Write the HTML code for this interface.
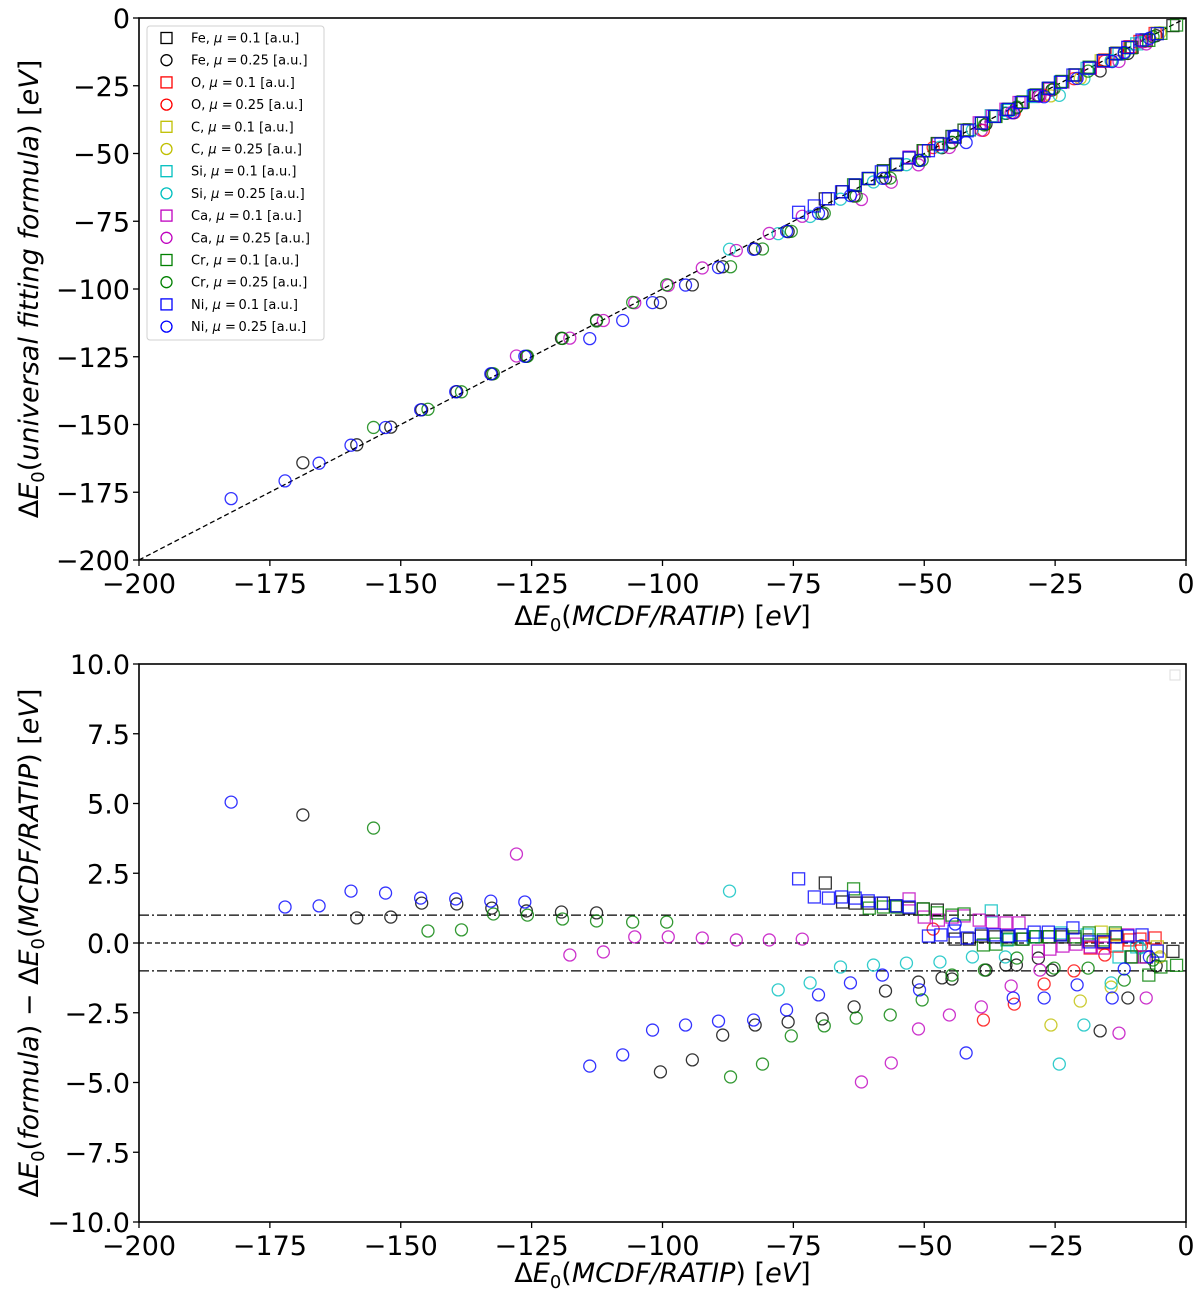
<!DOCTYPE html>
<html><head><meta charset="utf-8"><style>
body{margin:0;background:#fff;}
svg{display:block;font-family:"DejaVu Sans","Liberation Sans",sans-serif;}
</style></head><body>
<svg id="fig" width="1200" height="1298" viewBox="0 0 1200 1298" xmlns="http://www.w3.org/2000/svg">
<g id="top"></g>
<g id="bot"></g>
</svg>
<script>
// ---- data: [x = dE0(MCDF/RATIP), d = dE0(formula) - dE0(MCDF/RATIP)] ----
const FeSq=[[-68.9,2.15],[-65.6,1.47],[-63.2,1.43],[-60.7,1.43],[-57.8,1.43],[-55.5,1.33],[-52.9,1.25],[-50.2,1.22],[-47.5,1.18],[-44.1,0.14],[-41.4,0.14],[-39.1,0.25],[-36.5,0.22],[-34.0,0.22],[-31.3,0.14],[-28.8,0.22],[-26.3,0.22],[-23.7,0.22],[-21.2,0.14],[-18.5,0.11],[-15.8,0.04],[-13.2,0.22],[-10.3,-0.5],[-7.6,-0.5],[-2.5,-0.3]];
const FeCi=[[-168.7,4.59],[-158.4,0.9],[-151.9,0.93],[-146.0,1.43],[-139.3,1.4],[-132.6,1.25],[-126.0,1.15],[-119.3,1.11],[-112.6,1.08],[-100.4,-4.62],[-94.3,-4.19],[-88.5,-3.3],[-82.3,-2.94],[-76.0,-2.83],[-69.5,-2.72],[-63.4,-2.29],[-57.4,-1.72],[-51.1,-1.4],[-46.6,-1.25],[-44.7,-1.29],[-38.2,-0.97],[-34.4,-0.79],[-32.4,-0.79],[-28.2,-0.54],[-25.6,-0.97],[-16.4,-3.15],[-11.1,-1.97],[-5.7,-0.82]];
const OSq=[[-18.3,-0.18],[-15.5,0.0],[-13.2,-0.11],[-10.7,0.11],[-8.8,0.14],[-5.9,0.18]];
const OCi=[[-48.3,0.5],[-38.7,-2.76],[-32.8,-2.19],[-27.1,-1.47],[-21.4,-1.0],[-15.5,-0.43],[-8.5,-0.1]];
const CSq=[[-16.2,0.39],[-13.4,0.29],[-5.5,-0.14]];
const CCi=[[-25.8,-2.94],[-20.2,-2.08],[-14.3,-1.58],[-5.0,-0.5]];
const SiSq=[[-37.2,1.15],[-34.2,0.11],[-29.2,0.22],[-23.9,0.36],[-18.9,0.29],[-12.8,-0.5],[-9.4,-0.14]];
const SiCi=[[-87.2,1.86],[-77.9,-1.68],[-71.8,-1.43],[-66.0,-0.86],[-59.7,-0.79],[-53.4,-0.72],[-47.0,-0.68],[-40.8,-0.5],[-34.5,-0.5],[-24.2,-4.34],[-19.5,-2.94],[-14.3,-1.43],[-8.8,-0.18]];
const CaSq=[[-52.9,1.58],[-50.0,0.93],[-47.3,0.82],[-44.7,0.93],[-42.4,0.97],[-39.5,0.82],[-37.0,0.75],[-34.4,0.72],[-31.9,0.72],[-28.2,-0.29],[-26.0,-0.22],[-23.5,-0.11],[-21.0,-0.04],[-18.3,-0.14],[-15.8,-0.18],[-11.1,0.29],[-8.0,-0.5]];
const CaCi=[[-127.9,3.19],[-117.7,-0.43],[-111.3,-0.32],[-98.9,0.22],[-92.4,0.18],[-105.3,0.22],[-85.9,0.11],[-79.6,0.11],[-73.3,0.14],[-62.0,-4.98],[-56.3,-4.3],[-51.1,-3.08],[-45.2,-2.58],[-39.1,-2.29],[-33.4,-1.54],[-27.9,-0.97],[-12.8,-3.23],[-7.6,-1.97]];
const CrSq=[[-63.5,1.94],[-60.5,1.25],[-57.8,1.29],[-55.2,1.29],[-50.2,1.22],[-47.5,1.08],[-44.7,1.0],[-42.4,1.04],[-38.7,-0.07],[-36.3,-0.04],[-33.8,0.14],[-31.1,0.14],[-28.6,0.22],[-26.1,0.22],[-23.7,0.29],[-21.2,0.22],[-18.5,0.36],[-15.8,0.11],[-13.5,0.36],[-10.5,-0.5],[-7.1,-1.15],[-4.8,-0.86],[-1.8,-0.8]];
const CrCi=[[-155.2,4.12],[-144.8,0.43],[-138.4,0.47],[-132.3,1.04],[-125.8,1.0],[-119.1,0.86],[-112.6,0.79],[-105.7,0.75],[-99.2,0.75],[-87.0,-4.8],[-80.9,-4.34],[-75.4,-3.33],[-69.1,-2.97],[-63.0,-2.69],[-56.5,-2.58],[-50.4,-2.04],[-44.7,-1.15],[-38.5,-0.97],[-32.3,-0.54],[-25.2,-0.9],[-18.7,-0.9],[-11.8,-1.33],[-6.3,-0.61]];
const NiSq=[[-74.0,2.3],[-71.0,1.65],[-68.3,1.61],[-65.8,1.65],[-63.2,1.61],[-60.7,1.51],[-58.2,1.43],[-55.3,1.33],[-52.9,1.29],[-49.2,0.25],[-46.8,0.29],[-44.3,0.43],[-41.8,0.18],[-39.1,0.32],[-36.6,0.29],[-34.0,0.25],[-31.5,0.29],[-29.0,0.39],[-26.3,0.39],[-24.0,0.29],[-21.6,0.54],[-18.5,0.04],[-15.8,0.04],[-13.4,0.22],[-11.1,0.25],[-8.4,0.29],[-5.5,-0.29]];
const NiCi=[[-182.4,5.05],[-172.1,1.29],[-165.6,1.33],[-159.5,1.86],[-152.9,1.79],[-146.2,1.61],[-139.5,1.58],[-132.8,1.5],[-126.3,1.47],[-113.9,-4.41],[-107.6,-4.01],[-101.9,-3.12],[-95.6,-2.94],[-89.3,-2.8],[-82.6,-2.76],[-76.3,-2.4],[-70.2,-1.86],[-64.1,-1.43],[-58.0,-1.15],[-50.9,-1.68],[-44.1,0.68],[-42.0,-3.94],[-33.0,-1.97],[-27.1,-1.97],[-20.8,-1.5],[-14.1,-1.97],[-11.8,-0.93],[-7.0,-0.5]];
const xTicks=[-200,-175,-150,-125,-100,-75,-50,-25,0];
const yTicksTop=[0,-25,-50,-75,-100,-125,-150,-175,-200];
const yTicksBot=[10.0,7.5,5.0,2.5,0.0,-2.5,-5.0,-7.5,-10.0];
const seriesNames=["Fe","Fe","O","O","C","C","Si","Si","Ca","Ca","Cr","Cr","Ni","Ni"];
const seriesMu=["0.1","0.25","0.1","0.25","0.1","0.25","0.1","0.25","0.1","0.25","0.1","0.25","0.1","0.25"];
const seriesColors=["#000","#000","#f00","#f00","#bfbf00","#bfbf00","#00bfbf","#00bfbf","#bf00bf","#bf00bf","#008000","#008000","#00f","#00f"];
const seriesData=[FeSq,FeCi,OSq,OCi,CSq,CCi,SiSq,SiCi,CaSq,CaCi,CrSq,CrCi,NiSq,NiCi];

const NS="http://www.w3.org/2000/svg";
function mk(parent,tag,attrs,text){const e=document.createElementNS(NS,tag);for(const k in attrs)e.setAttribute(k,attrs[k]);if(text!==undefined)e.textContent=text;parent.appendChild(e);return e;}
const L=139,R=1186;
const sx=v=>L+(v+200)/200*(R-L);
const T1=18,B1=560; const syT=v=>T1+(0-v)/200*(B1-T1);
const T2=664,B2=1222; const syB=v=>T2+(10-v)/20*(B2-T2);

function marker(g,shape,cx,cy,col,name){
  let e;
  if(shape==="sq"){e=mk(g,"rect",{x:cx-6,y:cy-6,width:12,height:12,fill:"none",stroke:col,"stroke-width":1.3,opacity:0.8});}
  else{e=mk(g,"circle",{cx:cx,cy:cy,r:6,fill:"none",stroke:col,"stroke-width":1.3,opacity:0.8});}
  
  
  return e;
}

function axes(g,T,B,sy,yTicks,fmt,ylabel,xlabelY,ylabelCy){
  const ax=mk(g,"rect",{x:L,y:T,width:R-L,height:B-T,fill:"none",stroke:"#000","stroke-width":1.6});
  
  
  xTicks.forEach(t=>{
    mk(g,"line",{x1:sx(t),x2:sx(t),y1:B,y2:B+6,stroke:"#000","stroke-width":1.3});
    const lb=mk(g,"text",{x:sx(t),y:B+33,"font-size":27,"text-anchor":"middle"},t<0?"\u2212"+(-t):String(t));
    
    
  });
  yTicks.forEach(t=>{
    mk(g,"line",{x1:L-6,x2:L,y1:sy(t),y2:sy(t),stroke:"#000","stroke-width":1.3});
    const s=fmt(t);
    const lb=mk(g,"text",{x:L-9,y:sy(t)+10,"font-size":27,"text-anchor":"end"},s);
    
    
  });
  const xl=mk(g,"text",{x:(L+R)/2,y:xlabelY,"font-size":27,"text-anchor":"middle"});
  xl.innerHTML='\u0394<tspan font-style="italic">E</tspan><tspan font-size="18" dy="6">0</tspan><tspan dy="-6">(</tspan><tspan font-style="italic">MCDF/RATIP</tspan>) [<tspan font-style="italic">eV</tspan>]';
  
  
  const yl=mk(g,"text",{x:0,y:0,"font-size":27,"text-anchor":"middle",transform:`translate(38,${ylabelCy}) rotate(-90)`});
  yl.innerHTML=ylabel;
  
  
}
const fmtInt=t=>t<0?"\u2212"+(-t):String(t);
const fmtDec=t=>t<0?"\u2212"+(-t).toFixed(1):t.toFixed(1);

// top panel
const gt=document.getElementById("top");
const diag=mk(gt,"line",{x1:sx(-200),y1:syT(-200),x2:sx(0),y2:syT(0),stroke:"#000","stroke-width":1.3,"stroke-dasharray":"5,3"});


seriesData.forEach((arr,i)=>{
  const sg=mk(gt,"g",{});
  
  
  arr.forEach(p=>marker(sg,i%2===0?"sq":"ci",sx(p[0]),syT(p[0]+p[1]),seriesColors[i],"point"));
});
axes(gt,T1,B1,syT,yTicksTop,fmtInt,
 '\u0394<tspan font-style="italic">E</tspan><tspan font-size="18" dy="6">0</tspan><tspan dy="-6">(</tspan><tspan font-style="italic">universal fitting formula</tspan>) [<tspan font-style="italic">eV</tspan>]',625,289);

// legend
const lg=mk(gt,"g",{});


mk(lg,"rect",{x:147,y:26,width:177,height:314,rx:3,fill:"#fff",stroke:"#ccc","stroke-width":1,opacity:0.9});
seriesNames.forEach((n,i)=>{
  const y=38+i*22.2;
  const ent=mk(lg,"g",{});
  
  
  if(i%2===0) mk(ent,"rect",{x:161,y:y-5.5,width:11,height:11,fill:"none",stroke:seriesColors[i],"stroke-width":1.3});
  else mk(ent,"circle",{cx:166.5,cy:y,r:5.5,fill:"none",stroke:seriesColors[i],"stroke-width":1.3});
  const t=mk(ent,"text",{x:191,y:y+4.5,"font-size":13});
  t.innerHTML=n+', <tspan font-style="italic">\u03bc</tspan> =\u2009'+seriesMu[i]+' [a.u.]';
});

// bottom panel
const gb=document.getElementById("bot");
[[0,"5,3"],[1,"10,3,2,3"],[-1,"10,3,2,3"]].forEach(r=>{
  const ln=mk(gb,"line",{x1:L,x2:R,y1:syB(r[0]),y2:syB(r[0]),stroke:"#000","stroke-width":1.3,"stroke-dasharray":r[1]});
  
  
});
seriesData.forEach((arr,i)=>{
  const sg=mk(gb,"g",{});
  
  
  arr.forEach(p=>marker(sg,i%2===0?"sq":"ci",sx(p[0]),syB(p[1]),seriesColors[i],"residual-point"));
});
axes(gb,T2,B2,syB,yTicksBot,fmtDec,
 '\u0394<tspan font-style="italic">E</tspan><tspan font-size="18" dy="6">0</tspan><tspan dy="-6">(</tspan><tspan font-style="italic">formula</tspan>) \u2212 \u0394<tspan font-style="italic">E</tspan><tspan font-size="18" dy="6">0</tspan><tspan dy="-6">(</tspan><tspan font-style="italic">MCDF/RATIP</tspan>) [<tspan font-style="italic">eV</tspan>]',1282,943);
const el=mk(gb,"rect",{x:1170,y:670,width:10,height:10,fill:"#fff",stroke:"#ddd","stroke-width":1});


</script>
</body></html>
